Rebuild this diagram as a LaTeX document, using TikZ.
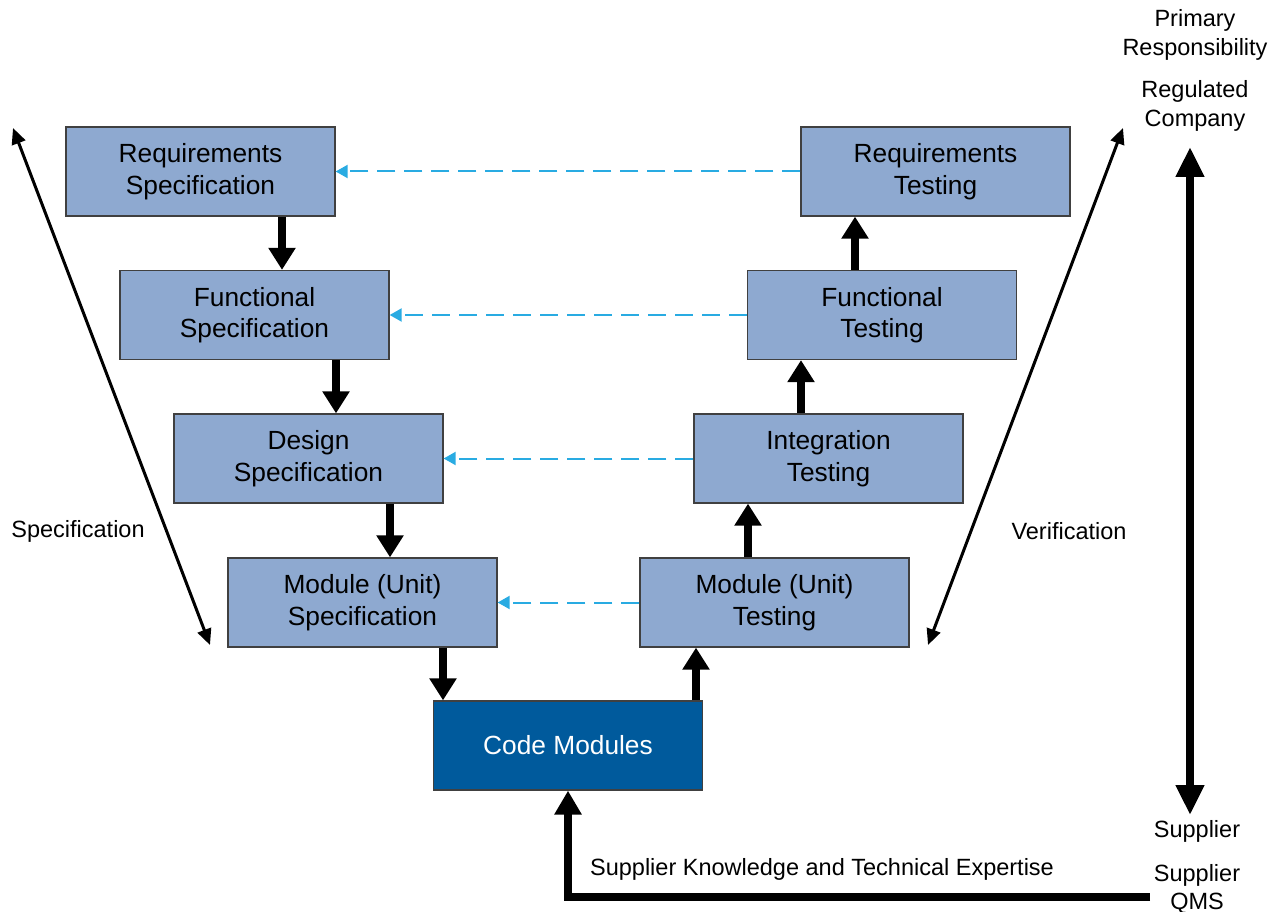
\documentclass[tikz,border=0pt]{standalone}
\usepackage{fontspec}
\setmainfont{Liberation Sans}
\usetikzlibrary{arrows.meta}
\definecolor{boxblue}{HTML}{8EA9D0}
\definecolor{codeblue}{HTML}{005A9C}
\definecolor{dashcyan}{HTML}{29ABE2}
\definecolor{edgegray}{HTML}{404040}
\tikzset{
  stepbox/.style={draw=edgegray, line width=1.3pt, fill=boxblue, minimum width=269pt, minimum height=89pt, inner sep=0pt, align=center, font=\fontsize{26.3}{31.5}\selectfont},
  codebox/.style={stepbox, fill=codeblue},
  lbl/.style={inner sep=0pt, align=center, font=\fontsize{23.5}{28.5}\selectfont},
  bigarrow/.style={line width=8pt, -{Triangle[width=26pt,length=22pt]}},
  thinarrow/.style={line width=3pt, {Triangle[width=14pt,length=16pt]}-{Triangle[width=14pt,length=16pt]}},
  dasharrow/.style={dashcyan, line width=2pt, dash pattern=on 18pt off 9pt, -{Triangle[width=13pt,length=12pt]}},
  dblarrow/.style={line width=8pt, {Triangle[width=27pt,length=30pt]}-{Triangle[width=27pt,length=30pt]}}
}
\begin{document}
\begin{tikzpicture}[x=1pt,y=-1pt]
\useasboundingbox (0,0) rectangle (1284,912);
% left boxes
\node[stepbox] (rs) at (200.5,171.5) {Requirements\\Specification};
\node[stepbox] (fs) at (254.5,315) {Functional\\Specification};
\node[stepbox] (ds) at (308.5,458.5) {Design\\Specification};
\node[stepbox] (ms) at (362.5,602.5) {Module (Unit)\\Specification};
% right boxes
\node[stepbox] (rt) at (935.5,171.5) {Requirements\\Testing};
\node[stepbox] (ft) at (882,315) {Functional\\Testing};
\node[stepbox] (it) at (828.5,458.5) {Integration\\Testing};
\node[stepbox] (mt) at (774.5,602.5) {Module (Unit)\\Testing};
% code
\node[codebox, text=white] (cm) at (568,745.5) {Code Modules};
% down arrows
\draw[bigarrow] ([xshift=81.5pt]rs.south) -- ([xshift=27.5pt]fs.north);
\draw[bigarrow] ([xshift=81.5pt]fs.south) -- ([xshift=27.5pt]ds.north);
\draw[bigarrow] ([xshift=81.5pt]ds.south) -- ([xshift=27.5pt]ms.north);
\draw[bigarrow] ([xshift=80.5pt]ms.south) -- ([xshift=-125pt]cm.north);
% up arrows
\draw[bigarrow] ([xshift=128pt]cm.north) -- ([xshift=-78.5pt]mt.south);
\draw[bigarrow] ([xshift=-26.5pt]mt.north) -- ([xshift=-80.5pt]it.south);
\draw[bigarrow] ([xshift=-27.5pt]it.north) -- ([xshift=-81pt]ft.south);
\draw[bigarrow] ([xshift=-27pt]ft.north) -- ([xshift=-80.5pt]rt.south);
% dashed
\draw[dasharrow] (rt.west) -- (rs.east);
\draw[dasharrow] (ft.west) -- (fs.east);
\draw[dasharrow] (it.west) -- (ds.east);
\draw[dasharrow] (mt.west) -- (ms.east);
% labels
\node[lbl] (spec) at (78,531) {Specification};
\node[lbl] (verif) at (1069,531) {Verification};
\node[lbl] (prim) at (1195,35) {Primary\\Responsibility};
\node[lbl] (reg) at (1195,106) {Regulated\\Company};
\node[lbl] (sup) at (1197,831) {Supplier};
\node[lbl] (qms) at (1197,889) {Supplier\\QMS};
\node[lbl] (ske) at (822,869) {Supplier Knowledge and Technical Expertise};
% side arrows
\coordinate (la1) at (210,645);
\coordinate (la2) at (13,128);
\coordinate (ra1) at (928,645);
\coordinate (ra2) at (1123,128);
\draw[thinarrow] (la1) -- (la2);
\draw[thinarrow] (ra1) -- (ra2);
% responsibility arrow
\coordinate (va1) at (1190,147);
\coordinate (va2) at (1190,815);
\draw[dblarrow] (va1) -- (va2);
% bottom arrow
\coordinate (bq) at (1150,897);
\draw[line width=8pt, -{Triangle[width=26pt,length=24pt]}] (bq) -| (cm.south);
\end{tikzpicture}
\end{document}
